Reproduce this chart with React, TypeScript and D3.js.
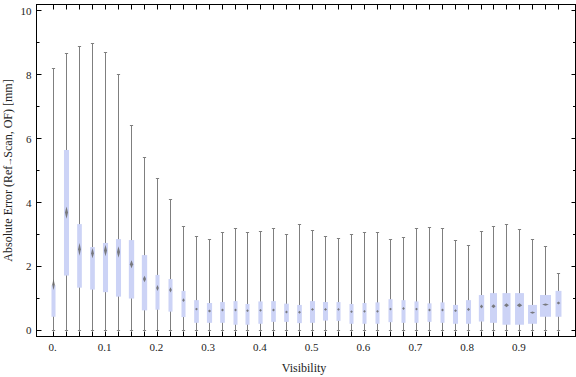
import React from "react";
import * as d3 from "d3";

// Visibility bins (center of each box)
const visibility = d3.range(40).map((i) => i * 0.025);
const xTickLabels = ["0.", "0.1", "0.2", "0.3", "0.4", "0.5", "0.6", "0.7", "0.8", "0.9"];
const xTickValues = [0, 0.1, 0.2, 0.3, 0.4, 0.5, 0.6, 0.7, 0.8, 0.9];
const yTickValues = [0, 2, 4, 6, 8, 10];

const whiskerMax = [
  8.21, 8.68, 8.89, 8.99, 8.71, 8.02, 6.42, 5.42, 4.76, 4.11,
  3.26, 2.94, 2.85, 3.06, 3.2, 3.06, 3.1, 3.2, 3.02, 3.33,
  3.14, 2.95, 2.89, 3.02, 3.06, 3.07, 2.85, 2.92, 3.2, 3.23,
  3.2, 2.82, 2.67, 3.1, 3.26, 3.33, 3.17, 2.85, 2.63, 1.79,
];
const whiskerMin = visibility.map(() => 0);
const q3 = [
  1.42, 5.65, 3.33, 2.61, 2.74, 2.86, 2.83, 2.36, 1.74, 1.61,
  1.24, 0.95, 0.86, 0.89, 0.92, 0.83, 0.91, 0.92, 0.84, 0.8,
  0.92, 0.89, 0.89, 0.83, 0.86, 0.88, 0.98, 0.95, 0.91, 0.85,
  0.88, 0.8, 0.95, 1.11, 1.17, 1.17, 1.17, 0.8, 1.11, 1.24,
];
const q1 = [
  0.43, 1.72, 1.34, 1.28, 1.2, 1.06, 1.0, 0.63, 0.65, 0.59,
  0.42, 0.24, 0.24, 0.24, 0.18, 0.18, 0.21, 0.27, 0.27, 0.23,
  0.24, 0.31, 0.3, 0.21, 0.21, 0.21, 0.26, 0.24, 0.24, 0.27,
  0.24, 0.21, 0.21, 0.28, 0.24, 0.18, 0.18, 0.21, 0.43, 0.43,
];
const median = [
  1.44, 3.69, 2.54, 2.42, 2.5, 2.46, 2.07, 1.61, 1.33, 1.27,
  0.95, 0.67, 0.61, 0.64, 0.64, 0.62, 0.63, 0.64, 0.58, 0.57,
  0.66, 0.66, 0.66, 0.59, 0.6, 0.6, 0.67, 0.69, 0.67, 0.64,
  0.64, 0.62, 0.66, 0.75, 0.76, 0.79, 0.79, 0.56, 0.81, 0.86,
];
// half-width of the median confidence interval (data units)
const medianCI = [
  0.17, 0.19, 0.2, 0.16, 0.18, 0.18, 0.125, 0.1, 0.094, 0.08,
  0.06, 0.045, 0.045, 0.045, 0.045, 0.045, 0.045, 0.045, 0.045, 0.045,
  0.045, 0.045, 0.045, 0.045, 0.045, 0.045, 0.045, 0.045, 0.045, 0.045,
  0.045, 0.045, 0.05, 0.06, 0.06, 0.06, 0.06, 0.02, 0.02, 0.05,
];
// relative box widths (fraction of a bin)
const boxWeight = [
  0.31, 0.39, 0.36, 0.36, 0.39, 0.39, 0.41, 0.41, 0.31, 0.31,
  0.31, 0.36, 0.4, 0.36, 0.31, 0.31, 0.33, 0.36, 0.36, 0.36,
  0.39, 0.39, 0.31, 0.31, 0.31, 0.31, 0.31, 0.31, 0.31, 0.31,
  0.31, 0.39, 0.39, 0.41, 0.54, 0.62, 0.69, 0.69, 0.85, 0.46,
];

const W = 576;
const H = 377;

export default function App() {
  const x = d3.scaleLinear().domain([-0.0342, 1.0064]).range([36, 575]);
  const y = d3.scaleLinear().domain([-0.188, 10.203]).range([336.5, 4.5]);
  const binPx = x(0.025) - x(0);
  const wScale = d3.scaleLinear().domain([0, 1]).range([0, binPx]);
  const left = 36.5, right = 575.5, top = 4.5, bottom = 336.5;
  const minorY = d3.range(1, 11, 2);
  const font = "'Liberation Serif', 'Times New Roman', serif";
  const snap = (v: number) => Math.round(v - 0.5) + 0.5;

  return (
    <svg width={W} height={H} style={{ position: "absolute", left: 0, top: 0, background: "#fff" }}>
      <defs>
        <filter id="soft" x="-50%" y="-50%" width="200%" height="200%">
          <feGaussianBlur stdDeviation="0.45" />
        </filter>
      </defs>
      {/* boxes */}
      {visibility.map((v, i) => {
        const cx = snap(x(v));
        const bw = wScale(boxWeight[i]);
        const capW = 1.6;
        const dw = Math.max(1.3, bw * 0.3);
        const dh = Math.max(1.2, y(0) - y(medianCI[i]));
        const my = y(median[i]);
        return (
          <g key={i}>
            <line x1={cx} x2={cx} y1={y(whiskerMin[i])} y2={y(whiskerMax[i])} stroke="#7f7f7f" strokeWidth={1} />
            <line x1={cx - capW} x2={cx + capW} y1={snap(y(whiskerMax[i]))} y2={snap(y(whiskerMax[i]))} stroke="#7f7f7f" strokeWidth={1} />
            <line x1={cx - capW} x2={cx + capW} y1={snap(y(whiskerMin[i]))} y2={snap(y(whiskerMin[i]))} stroke="#7f7f7f" strokeWidth={1} />
            <rect x={cx - bw / 2} y={y(q3[i])} width={bw} height={y(q1[i]) - y(q3[i])} fill="#ccd3f6" />
            <polygon
              points={`${cx},${my - dh} ${cx + dw},${my} ${cx},${my + dh} ${cx - dw},${my}`}
              fill="#6a6a6a"
              opacity={0.85}
              filter="url(#soft)"
            />
          </g>
        );
      })}
      {/* frame */}
      <rect x={left} y={top} width={right - left} height={bottom - top} fill="none" stroke="#000" strokeWidth={1} />
      {/* y ticks left & right */}
      {yTickValues.map((t) => (
        <g key={"y" + t}>
          <line x1={left} x2={left + 5} y1={snap(y(t))} y2={snap(y(t))} stroke="#000" />
          <line x1={right - 4} x2={right} y1={snap(y(t))} y2={snap(y(t))} stroke="#000" />
          <text x={31.5} y={y(t)} dy="0.35em" textAnchor="end" fontFamily={font} fontSize={11} fill="#222">
            {t}
          </text>
        </g>
      ))}
      {minorY.map((t) => (
        <g key={"ym" + t}>
          <line x1={left} x2={left + 3} y1={snap(y(t))} y2={snap(y(t))} stroke="#000" />
          <line x1={right - 2.5} x2={right} y1={snap(y(t))} y2={snap(y(t))} stroke="#000" />
        </g>
      ))}
      {/* x ticks at each bin, bottom & top */}
      {visibility.map((v, i) => (
        <g key={"xt" + i}>
          <line x1={snap(x(v))} x2={snap(x(v))} y1={bottom} y2={bottom - 5} stroke="#000" />
          <line x1={snap(x(v))} x2={snap(x(v))} y1={top} y2={top + 5} stroke="#000" />
        </g>
      ))}
      {xTickValues.map((t, i) => (
        <text key={"xl" + i} x={x(t) - 1} y={351} textAnchor="middle" fontFamily={font} fontSize={11} fill="#222">
          {xTickLabels[i]}
        </text>
      ))}
      <text x={304} y={371.5} textAnchor="middle" fontFamily={font} fontSize={12} fill="#222">
        Visibility
      </text>
      <text
        transform={`translate(12, ${(top + bottom) / 2}) rotate(-90)`}
        textAnchor="middle"
        fontFamily={font}
        fontSize={12}
        fill="#222"
      >
        Absolute Error (Ref<tspan fontSize={9} dx={-0.5}>→</tspan><tspan dx={-0.5}>Scan, OF) [mm]</tspan>
      </text>
    </svg>
  );
}
